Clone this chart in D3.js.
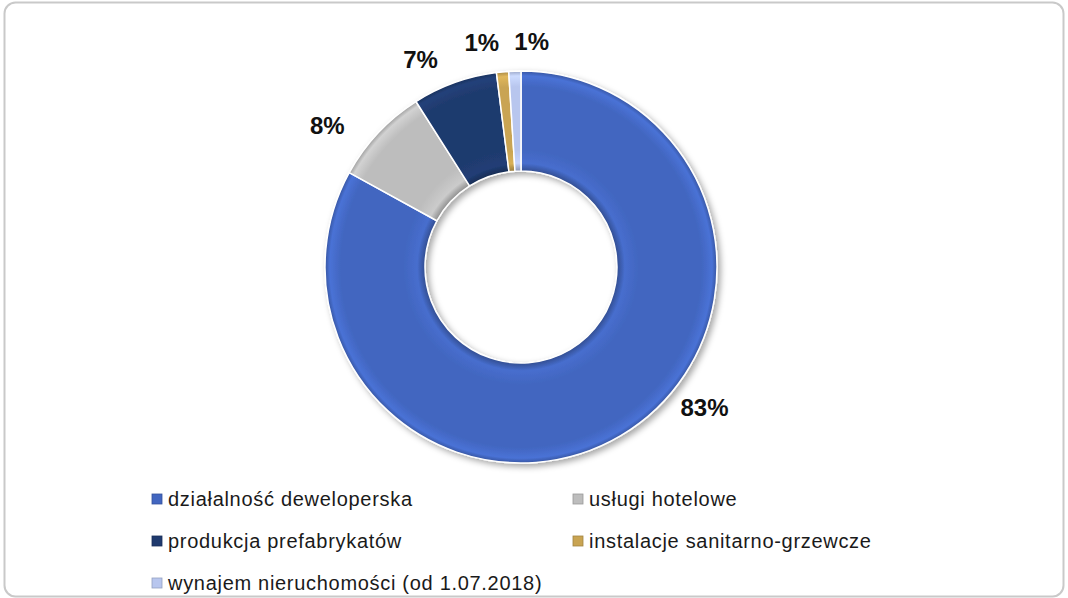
<!DOCTYPE html>
<html>
<head>
<meta charset="utf-8">
<script src="https://cdn.jsdelivr.net/npm/d3@7"></script>
<style>
    html, body { margin: 0; padding: 0; background: #fff; }
    svg { display: block; font-family: "Liberation Sans", Arial, sans-serif; }
</style>
</head>
<body>
<div id="chart"></div>
<script>
    // chart data
    var categories = ["działalność deweloperska", "usługi hotelowe", "produkcja prefabrykatów",
        "instalacje sanitarno-grzewcze", "wynajem nieruchomości (od 1.07.2018)"];
    var shares = [83, 8, 7, 1, 1];
    var percentLabels = ["83%", "8%", "7%", "1%", "1%"];
    var sliceColors = ["#4266c0", "#bdbdbd", "#1f3a6e", "#c9a452", "#b8c6ee"];

    var width = 1068,
        height = 598;

    var center = { x: 521, y: 267 },
        outerRadius = 196,
        innerRadius = 96;

    var svg = d3.select("#chart").append("svg")
        .attr("width", width)
        .attr("height", height);

    var defs = svg.append("defs");

    // soft shadow under the ring
    var shadow = defs.append("filter")
        .attr("id", "ring-shadow")
        .attr("x", "-20%").attr("y", "-20%")
        .attr("width", "140%").attr("height", "140%");
    shadow.append("feDropShadow")
        .attr("dx", 3).attr("dy", 3)
        .attr("stdDeviation", 3)
        .attr("flood-color", "#000")
        .attr("flood-opacity", 0.35);

    // frame
    svg.append("rect")
        .attr("x", 4.5).attr("y", 2.5)
        .attr("width", 1059).attr("height", 594)
        .attr("rx", 11).attr("ry", 11)
        .attr("fill", "#fff")
        .attr("stroke", "#c9c9c9")
        .attr("stroke-width", 2);

    var color = d3.scaleOrdinal()
        .domain(categories)
        .range(sliceColors);

    // bevel-ish gradient per slice (darker at inner and outer rim)
    var innerFrac = innerRadius / outerRadius;
    categories.forEach(function(cat, i) {
        var base = d3.color(color(cat));
        var grad = defs.append("radialGradient")
            .attr("id", "grad-" + i)
            .attr("gradientUnits", "userSpaceOnUse")
            .attr("cx", 0).attr("cy", 0)
            .attr("r", outerRadius);
        var stops = [
            [innerFrac, base.darker(0.8)],
            [innerFrac + 0.04, base.brighter(0.2)],
            [0.6, base],
            [0.92, base],
            [0.975, base.brighter(0.3)],
            [1, base.darker(0.5)]
        ];
        stops.forEach(function(s) {
            grad.append("stop")
                .attr("offset", s[0])
                .attr("stop-color", s[1].formatHex());
        });
    });

    var pie = d3.pie()
        .sort(null)
        .value(function(d) { return d; });

    var arc = d3.arc()
        .innerRadius(innerRadius)
        .outerRadius(outerRadius);

    var arcs = pie(shares);

    var g = svg.append("g")
        .attr("transform", "translate(" + center.x + "," + center.y + ")");

    g.append("g")
        .attr("filter", "url(#ring-shadow)")
        .selectAll("path")
        .data(arcs)
        .enter()
        .append("path")
        .attr("d", arc)
        .attr("fill", function(d, i) { return "url(#grad-" + i + ")"; })
        .attr("stroke", "#fff")
        .attr("stroke-width", 1.5)
        .attr("stroke-linejoin", "round");

    // data labels: "best fit" style, pushed off the mid angle a bit
    var labelRadius = [231, 240, 231, 228, 226];
    var labelTurn = [-22, -7, -6, -4.5, 4.5]; // degrees
    g.selectAll("text.pct")
        .data(arcs)
        .enter()
        .append("text")
        .attr("class", "pct")
        .attr("x", function(d, i) {
            var a = (d.startAngle + d.endAngle) / 2 + labelTurn[i] * Math.PI / 180;
            return Math.sin(a) * labelRadius[i];
        })
        .attr("y", function(d, i) {
            var a = (d.startAngle + d.endAngle) / 2 + labelTurn[i] * Math.PI / 180;
            return -Math.cos(a) * labelRadius[i];
        })
        .attr("dy", "0.36em")
        .attr("text-anchor", "middle")
        .style("font-size", "24px")
        .style("font-weight", "bold")
        .style("fill", "#111")
        .text(function(d, i) { return percentLabels[i]; });

    // legend, two columns
    var legendCol = d3.scalePoint().domain([0, 1]).range([152, 573]);
    var legendRow = d3.scalePoint().domain([0, 1, 2]).range([499, 583]);

    var legend = svg.append("g").attr("class", "legend");
    var items = legend.selectAll("g")
        .data(categories)
        .enter()
        .append("g")
        .attr("transform", function(d, i) {
            return "translate(" + legendCol(i % 2) + "," + legendRow(Math.floor(i / 2)) + ")";
        });

    items.append("rect")
        .attr("x", 0).attr("y", -5)
        .attr("width", 10).attr("height", 10)
        .attr("fill", function(d) { return color(d); })
        .attr("stroke", function(d) { return d3.color(color(d)).darker(0.6); })
        .attr("stroke-width", 0.8);

    items.append("text")
        .attr("x", 16)
        .attr("dy", "0.36em")
        .style("font-size", "20px")
        .style("letter-spacing", "0.7px")
        .style("fill", "#1a1a1a")
        .text(function(d) { return d; });
</script>
</body>
</html>
